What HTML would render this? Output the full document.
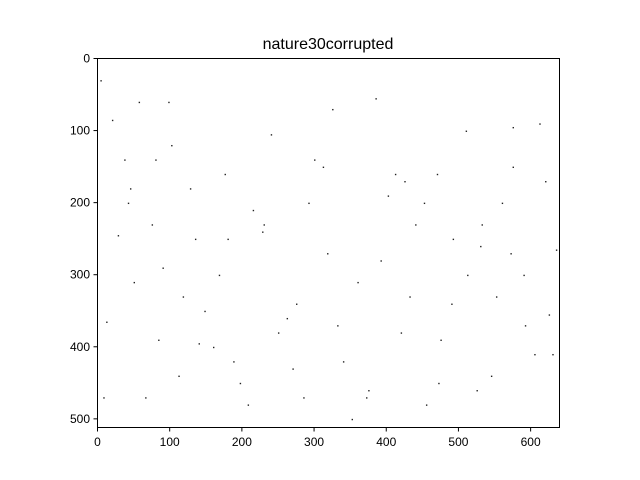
<!DOCTYPE html>
<html><head><meta charset="utf-8"><style>
body{margin:0;background:#fff;}
svg{display:block;font-family:"Liberation Sans",sans-serif;}
</style></head><body>
<svg id="chart" width="640" height="480" viewBox="0 0 640 480" xmlns="http://www.w3.org/2000/svg">
<rect width="640" height="480" fill="#fff"/>
<text x="328" y="49" font-size="16" text-anchor="middle">nature30corrupted</text>
<g id="dots"></g>
<rect x="97.5" y="58.5" width="462" height="369" fill="none" stroke="#000" stroke-width="1"/>
<g id="xaxis"></g>
<g id="yaxis"></g>
</svg>
<script>
const xTicks=[0,100,200,300,400,500,600];
const yTicks=[0,100,200,300,400,500];
const dotX=[4,20,37,45,57,75,90,102,118,135,160,176,197,215,240,262,285,300,318,340,360,385,402,420,440,455,470,490,510,530,545,560,575,590,605,620,635,12,28,50,66,84,98,112,128,148,168,188,208,228,250,270,292,312,332,352,372,392,412,432,452,472,492,512,532,552,572,592,612,630,8,42,80,140,180,230,275,325,375,425,475,525,575,625];
const dotY=[30,85,140,180,60,230,290,120,330,250,400,160,450,210,105,360,470,140,270,420,310,55,190,380,230,480,160,340,100,260,440,200,95,300,410,170,265,365,245,310,470,390,60,440,180,350,300,420,480,240,380,430,200,150,370,500,470,280,160,330,200,450,250,300,230,330,270,370,90,410,470,200,140,395,250,230,340,70,460,170,390,460,150,355];
const X0=97.5,Y0=58.5,W=462,H=369,XMAX=640,YMAX=512;
const sx=v=>X0+v/XMAX*W, sy=v=>Y0+v/YMAX*H;
const NS="http://www.w3.org/2000/svg";
const dg=document.getElementById('dots');
for(let i=0;i<dotX.length;i++){
 const r=document.createElementNS(NS,'rect');
 
 
 r.setAttribute('x',sx(dotX[i]));r.setAttribute('y',sy(dotY[i]));
 r.setAttribute('width',1.4);r.setAttribute('height',1.4);r.setAttribute('fill','#222');
 dg.appendChild(r);
}
const xg=document.getElementById('xaxis');
xTicks.forEach(t=>{
 const x=sx(t);
 const l=document.createElementNS(NS,'line');
 
 
 l.setAttribute('x1',x);l.setAttribute('x2',x);l.setAttribute('y1',427.5);l.setAttribute('y2',431.5);l.setAttribute('stroke','#000');
 xg.appendChild(l);
 const tx=document.createElementNS(NS,'text');
 
 
 tx.setAttribute('x',x);tx.setAttribute('y',446);tx.setAttribute('font-size','12');tx.setAttribute('text-anchor','middle');
 tx.textContent=t;xg.appendChild(tx);
});
const yg=document.getElementById('yaxis');
yTicks.forEach(t=>{
 const y=sy(t);
 const l=document.createElementNS(NS,'line');
 
 
 l.setAttribute('x1',93.5);l.setAttribute('x2',97.5);l.setAttribute('y1',y);l.setAttribute('y2',y);l.setAttribute('stroke','#000');
 yg.appendChild(l);
 const tx=document.createElementNS(NS,'text');
 
 
 tx.setAttribute('x',90);tx.setAttribute('y',y+4);tx.setAttribute('font-size','12');tx.setAttribute('text-anchor','end');
 tx.textContent=t;yg.appendChild(tx);
});
</script>
</body></html>
